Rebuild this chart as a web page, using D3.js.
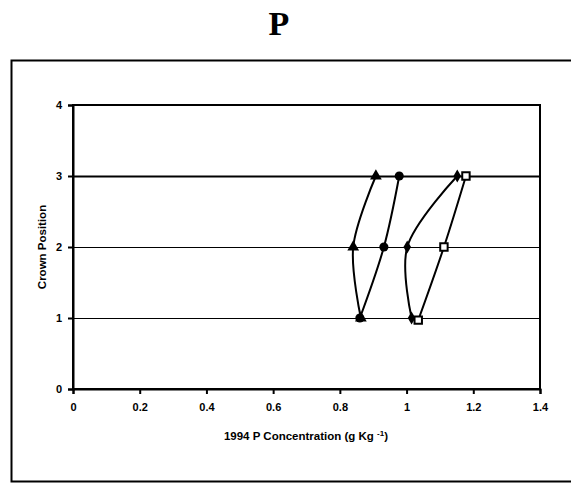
<!DOCTYPE html>
<html><head><meta charset="utf-8">
<script src="https://cdn.jsdelivr.net/npm/d3@7"></script>
<style>body{margin:0;background:#fff}svg{display:block}</style>
</head><body>
<svg id="c" width="571" height="483"></svg>
<script>
const positions = [1, 2, 3];
const triangleValues = [0.863, 0.84, 0.908];
const circleValues = [0.86, 0.932, 0.978];
const diamondValues = [1.015, 1.002, 1.152];
const squareValues = [1.035, 1.112, 1.178];
const squarePositions = [0.97, 2, 3];
const xTicks = [0, 0.2, 0.4, 0.6, 0.8, 1, 1.2, 1.4];
const yTicks = [0, 1, 2, 3, 4];
const gridLines = [1, 2, 3];

const svg = d3.select("#c");
const x = d3.scaleLinear().domain([0, 1.4]).range([73, 540]);
const y = d3.scaleLinear().domain([0, 4]).range([389, 105]);

// outer frame (right edge beyond window)
svg.append("path").attr("d", "M575,60.5H11.5V481.5H575").attr("fill", "none").attr("stroke", "#000").attr("stroke-width", 2);

svg.append("text").attr("x", 279).attr("y", 35).attr("text-anchor", "middle")
  .attr("font-family", "Liberation Serif, Times New Roman, serif").attr("font-weight", "bold")
  .attr("font-size", 34).text("P");

// gridlines
svg.selectAll(".grid").data(gridLines).enter().append("line")
  .attr("x1", x(0)).attr("x2", x(1.4))
  .attr("y1", d => Math.round(y(d)) + 0.5).attr("y2", d => Math.round(y(d)) + 0.5)
  .attr("stroke", "#000").attr("stroke-width", d => d === 3 ? 2 : 1);

// plot area border
svg.append("rect").attr("x", x(0)).attr("y", y(4)).attr("width", x(1.4) - x(0)).attr("height", y(0) - y(4))
  .attr("fill", "none").attr("stroke", "#000").attr("stroke-width", 2);

const fontAxis = "Liberation Sans, Arial, sans-serif";
const xAxis = d3.axisBottom(x).tickValues(xTicks).tickSize(5).tickPadding(9)
  .tickFormat(d => d3.format("")(d));
const gx = svg.append("g").attr("transform", `translate(0,${y(0)})`).call(xAxis);
const yAxis = d3.axisLeft(y).tickValues(yTicks).tickSize(5).tickPadding(6).tickFormat(d3.format("d"));
const gy = svg.append("g").attr("transform", `translate(${x(0)},0)`).call(yAxis);
[gx, gy].forEach(g => {
  g.select(".domain").attr("stroke-width", 2);
  g.selectAll(".tick line").attr("stroke-width", 2);
  g.selectAll("text").attr("font-family", fontAxis).attr("font-weight", "bold").attr("font-size", 11).attr("fill", "#000");
});

svg.append("text").attr("x", 306).attr("y", 440).attr("text-anchor", "middle")
  .attr("font-family", fontAxis).attr("font-weight", "bold").attr("font-size", 11.5)
  .html('1994 P Concentration (g Kg <tspan dy="-4" font-size="8">-1</tspan><tspan dy="4">)</tspan>');

svg.append("text").attr("transform", `translate(46,${y(2)}) rotate(-90)`).attr("text-anchor", "middle")
  .attr("font-family", fontAxis).attr("font-weight", "bold").attr("font-size", 11.5).text("Crown Position");

const series = [
  {vals: triangleValues, pos: positions, sym: d3.symbolTriangle, size: 60, fill: "#000"},
  {vals: circleValues, pos: positions, sym: d3.symbolCircle, size: 65, fill: "#000"},
  {vals: diamondValues, pos: positions, sym: d3.symbolDiamond, size: 50, fill: "#000"},
  {vals: squareValues, pos: squarePositions, sym: d3.symbolSquare, size: 55, fill: "#fff"}
];
const line = d3.line().x(d => x(d[0])).y(d => y(d[1])).curve(d3.curveCatmullRom.alpha(0.5));
series.forEach(s => {
  const pts = s.vals.map((v, i) => [v, s.pos[i]]);
  svg.append("path").attr("d", line(pts)).attr("fill", "none").attr("stroke", "#000").attr("stroke-width", 2);
});
series.forEach(s => {
  const pts = s.vals.map((v, i) => [v, s.pos[i]]);
  svg.selectAll(null).data(pts).enter().append("path")
    .attr("d", d3.symbol().type(s.sym).size(s.size))
    .attr("transform", d => `translate(${x(d[0])},${y(d[1])})`)
    .attr("fill", s.fill).attr("stroke", "#000").attr("stroke-width", s.fill === "#fff" ? 2 : 0);
});
</script>
</body></html>
